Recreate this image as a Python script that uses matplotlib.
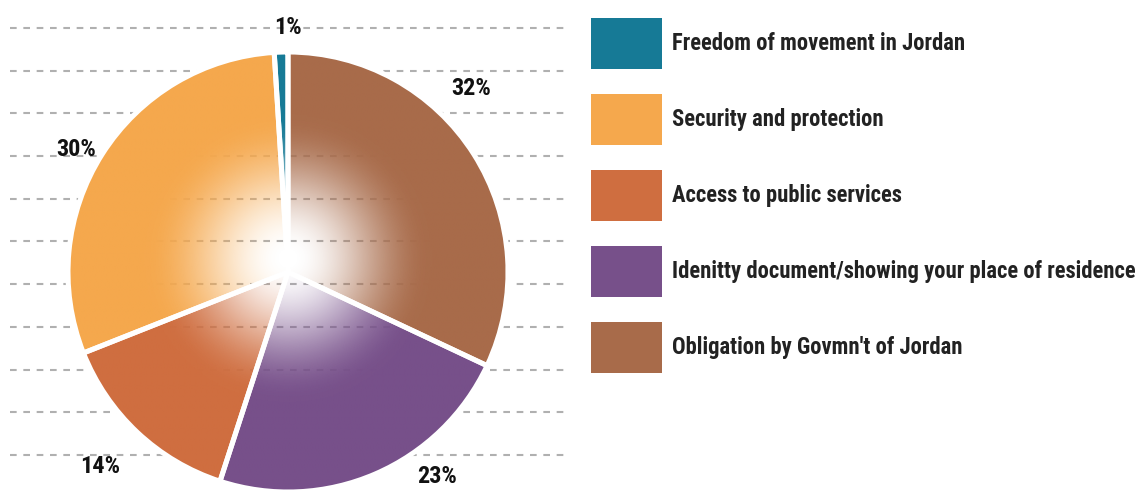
import matplotlib
matplotlib.use("Agg")
import matplotlib.pyplot as plt
from matplotlib.patches import Patch
from matplotlib import font_manager
import numpy as np

# data
categories = ["Freedom of movement in Jordan",
              "Security and protection",
              "Access to public services",
              "Idenitty document/showing your place of residence",
              "Obligation by Govmn't of Jordan"]
shares = [1, 30, 14, 23, 32]
colors = ["#167a96", "#f5a84d", "#cf6e40", "#77508a", "#a86b4a"]

# pick a narrow bold face if there is one
names = {(f.name, f.stretch) for f in font_manager.fontManager.ttflist}
fam, stretch = "Liberation Sans", "normal"
for cand in ["Roboto Condensed", "Liberation Sans Narrow", "Open Sans Condensed"]:
    if any(n == cand for n, s in names):
        fam = cand
        break
else:
    if ("DejaVu Sans", "condensed") in names or ("DejaVu Sans", "semi-condensed") in names:
        fam, stretch = "DejaVu Sans", "condensed"
plt.rcParams['font.family'] = [fam, 'DejaVu Sans']
plt.rcParams['font.stretch'] = stretch

W, H = 1143, 500
fig = plt.figure(figsize=(W / 100, H / 100), dpi=100)
fig.patch.set_facecolor("white")

# pie axes: centre at pixel (288, 272), radius 220 px
cx, cy, R = 288, 272, 220
axw = 576
ax = fig.add_axes([0, 0, axw / W, 1])

# dashed background lines
line_px = 28 + 42.7 * np.arange(11)
ax.hlines((cy - line_px) / R, (10 - cx) / R, (566 - cx) / R,
          colors="#b0b0b0", linewidth=1.5, linestyles=(0, (3.2, 3.2)), zorder=0)

wedges, _ = ax.pie(shares, colors=colors, startangle=90, counterclock=True,
                   radius=1, center=(0, 0), frame=True,
                   wedgeprops=dict(edgecolor="white", linewidth=3.6))
ax.set_xlim(-cx / R, (axw - cx) / R)
ax.set_ylim(-(H - cy) / R, cy / R)
ax.set_aspect("auto")
ax.axis("off")

# radial fade from transparent centre to full colour
n = 400
gx, gy = np.meshgrid(np.linspace(-1, 1, n), np.linspace(-1, 1, n))
rr = np.hypot(gx, gy - 0.06)
t = np.clip((rr - 0.02) / 0.63, 0, 1)
alpha = t * t * (3 - 2 * t)
for w, c in zip(wedges, colors):
    rgb = matplotlib.colors.to_rgb(c)
    img = np.zeros((n, n, 4))
    img[..., :3] = rgb
    img[..., 3] = alpha
    im = ax.imshow(img, extent=(-1, 1, -1, 1), origin="lower",
                   interpolation="bilinear", zorder=1)
    im.set_clip_path(w)
    w.set_facecolor("none")
    w.set_zorder(2)

# percentage labels
lab_angle = [90, 150, 226, 306, 45]
lab_rad = [1.11, 1.11, 1.23, 1.15, 1.18]
for v, a, r in zip(shares, lab_angle, lab_rad):
    ax.text(r * np.cos(np.radians(a)), r * np.sin(np.radians(a)), f"{v}%",
            ha="center", va="center", fontsize=17.5, fontweight="bold",
            color="#111111", zorder=3)

# legend; shrink the text until the longest label fits the figure
fs = 17.0
renderer = fig.canvas.get_renderer()
while fs > 8:
    tt = fig.text(0, 0, max(categories, key=len), fontsize=fs, fontweight="bold")
    wpx = tt.get_window_extent(renderer).width
    tt.remove()
    if wpx <= 466:
        break
    fs -= 0.25
hh_pt = 51 * 72 / 100
handles = [Patch(facecolor=c, edgecolor="none") for c in colors]
leg = fig.legend(handles, categories, loc="upper left",
                 bbox_to_anchor=(591 / W, 1 - 18 / H), frameon=False,
                 fontsize=fs, handlelength=71 * 0.72 / fs,
                 handleheight=(hh_pt / fs - 0.245) / 0.65,
                 labelspacing=25 * 0.72 / fs, handletextpad=10 * 0.72 / fs,
                 borderpad=0, borderaxespad=0)
for txt in leg.get_texts():
    txt.set_fontweight("bold")
    txt.set_color("#222222")

fig.savefig("out.png", dpi=100)
